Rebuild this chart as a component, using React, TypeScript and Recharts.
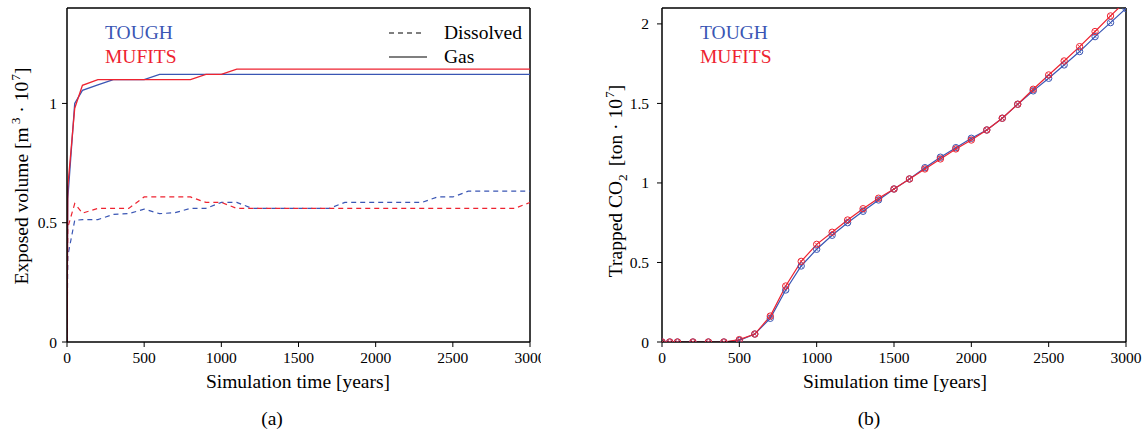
import React from 'react';
import { LineChart, Line, XAxis, YAxis, ReferenceLine } from 'recharts';

const FONT = '"Liberation Serif", "Times New Roman", Times, serif';
const BLUE = '#3a56b4';
const RED = '#ee2330';

// ---------- Panel (a): exposed volume ----------
const timeA = [0, 5, 50, 100, 200, 300, 400, 500, 600, 700, 800, 900, 1000, 1100, 1200, 1300, 1400, 1500, 1600, 1700, 1800, 1900, 2000, 2100, 2200, 2300, 2400, 2500, 2600, 2700, 2800, 2900, 3000];
const toughGas = [0, 0.6, 1.0, 1.055, 1.078, 1.1, 1.1, 1.1, 1.122, 1.122, 1.122, 1.122, 1.122, 1.122, 1.122, 1.122, 1.122, 1.122, 1.122, 1.122, 1.122, 1.122, 1.122, 1.122, 1.122, 1.122, 1.122, 1.122, 1.122, 1.122, 1.122, 1.122, 1.122];
const mufitsGas = [0, 0.65, 0.98, 1.076, 1.1, 1.1, 1.1, 1.1, 1.1, 1.1, 1.1, 1.122, 1.122, 1.144, 1.144, 1.144, 1.144, 1.144, 1.144, 1.144, 1.144, 1.144, 1.144, 1.144, 1.144, 1.144, 1.144, 1.144, 1.144, 1.144, 1.144, 1.144, 1.144];
const toughDis = [0, 0.36, 0.51, 0.513, 0.513, 0.535, 0.538, 0.557, 0.538, 0.542, 0.56, 0.56, 0.585, 0.585, 0.56, 0.56, 0.56, 0.56, 0.56, 0.56, 0.585, 0.585, 0.585, 0.585, 0.585, 0.585, 0.608, 0.608, 0.632, 0.632, 0.632, 0.632, 0.632];
const mufitsDis = [0, 0.48, 0.58, 0.54, 0.56, 0.56, 0.56, 0.608, 0.608, 0.608, 0.608, 0.585, 0.585, 0.56, 0.56, 0.56, 0.56, 0.56, 0.56, 0.56, 0.56, 0.56, 0.56, 0.56, 0.56, 0.56, 0.56, 0.56, 0.56, 0.56, 0.56, 0.56, 0.585];

// ---------- Panel (b): trapped CO2 ----------
const timeB = [0, 50, 100, 200, 300, 400, 500, 600, 700, 800, 900, 1000, 1100, 1200, 1300, 1400, 1500, 1600, 1700, 1800, 1900, 2000, 2100, 2200, 2300, 2400, 2500, 2600, 2700, 2800, 2900, 3000];
const toughTrap = [0, 0, 0, 0, 0, 0, 0.01, 0.05, 0.149, 0.327, 0.478, 0.583, 0.671, 0.75, 0.822, 0.893, 0.962, 1.025, 1.096, 1.162, 1.222, 1.281, 1.333, 1.407, 1.495, 1.579, 1.658, 1.742, 1.826, 1.92, 2.008, 2.097];
const mufitsTrap = [0, 0, 0, 0, 0, 0, 0.015, 0.05, 0.163, 0.352, 0.507, 0.614, 0.69, 0.767, 0.838, 0.904, 0.962, 1.025, 1.088, 1.151, 1.214, 1.27, 1.333, 1.407, 1.495, 1.589, 1.679, 1.767, 1.857, 1.952, 2.05, 2.145];

const xTicks = [0, 500, 1000, 1500, 2000, 2500, 3000];
const yTicksA = [0, 0.5, 1];
const yTicksB = [0, 0.5, 1, 1.5, 2];

const dataA = timeA.map((t, i) => ({ t, toughGas: toughGas[i], mufitsGas: mufitsGas[i], toughDis: toughDis[i], mufitsDis: mufitsDis[i] }));
const dataB = timeB.map((t, i) => ({ t, tough: toughTrap[i], mufits: mufitsTrap[i] }));

const tickStyle = { fontSize: 15.5, fill: '#000', fontFamily: FONT };
const TITLE_SIZE = 19.5;

const CrossDot = (props: any) => {
  const { cx, cy, stroke } = props;
  if (cx == null || cy == null) return <g key={props.index} />;
  const d = 1.8;
  return (
    <g key={props.index}>
      <circle cx={cx} cy={cy} r={3.2} fill="none" stroke={stroke} strokeWidth={1} />
      <path d={`M${cx - d},${cy - d}L${cx + d},${cy + d}M${cx - d},${cy + d}L${cx + d},${cy - d}`} stroke={stroke} strokeWidth={0.8} />
    </g>
  );
};

const YLabelA = () => (
  <text x={28} y={176} transform="rotate(-90 28 176)" textAnchor="middle" fontSize={TITLE_SIZE} fontFamily={FONT} fill="#000">
    Exposed volume [m<tspan dx={3} dy={-8} fontSize={13.5}>3</tspan>
    <tspan dy={8}> · 10</tspan>
    <tspan dx={1} dy={-8} fontSize={13.5}>7</tspan>
    <tspan dy={8}>]</tspan>
  </text>
);

const YLabelB = () => (
  <text x={81} y={181} transform="rotate(-90 81 181)" textAnchor="middle" fontSize={TITLE_SIZE} fontFamily={FONT} fill="#000">
    Trapped CO<tspan dy={5} fontSize={13.5}>2</tspan>
    <tspan dx={8} dy={-5}>[ton · 10</tspan>
    <tspan dx={1} dy={-8} fontSize={13.5}>7</tspan>
    <tspan dy={8}>]</tspan>
  </text>
);

const XLabel = ({ cx, panel }: { cx: number; panel: string }) => (
  <g>
    <text x={cx} y={388} textAnchor="middle" fontSize={TITLE_SIZE} fontFamily={FONT} fill="#000">Simulation time [years]</text>
    <text x={cx - 26} y={425} textAnchor="middle" fontSize={TITLE_SIZE} fontFamily={FONT} fill="#000">{panel}</text>
  </g>
);

const legendText: React.CSSProperties = { position: 'absolute', fontFamily: FONT, fontSize: TITLE_SIZE, lineHeight: '20px', whiteSpace: 'nowrap' };

const SeriesLegend = ({ left }: { left: number }) => (
  <>
    <div style={{ ...legendText, left, top: 23, color: BLUE }}>TOUGH</div>
    <div style={{ ...legendText, left, top: 47, color: RED }}>MUFITS</div>
  </>
);

export default function App() {
  return (
    <div style={{ position: 'absolute', left: 0, top: 0, width: 1148, height: 433, background: '#fff', overflow: 'hidden' }}>
      {/* Panel (a) */}
      <div style={{ position: 'absolute', left: 0, top: 0, width: 541, height: 433, overflow: 'hidden' }}>
        <LineChart width={541} height={433} data={dataA} margin={{ top: 8, right: 11, left: 0, bottom: 0 }}>
          <XAxis dataKey="t" type="number" domain={[0, 3000]} ticks={xTicks} interval={0} allowDataOverflow
            height={91} tick={tickStyle} tickSize={5} tickMargin={5}
            axisLine={{ stroke: '#000', strokeWidth: 1.5 }} tickLine={{ stroke: '#000' }}
            label={() => <XLabel cx={298} panel="(a)" />} />
          <YAxis type="number" domain={[0, 1.4]} ticks={yTicksA} interval={0} allowDataOverflow
            width={67} tick={tickStyle} tickSize={5} tickMargin={5}
            axisLine={{ stroke: '#000', strokeWidth: 1.5 }} tickLine={{ stroke: '#000' }}
            label={() => <YLabelA />} />
          <ReferenceLine y={1.4} stroke="#000" strokeWidth={1.5} />
          <ReferenceLine x={3000} stroke="#000" strokeWidth={1.5} />
          <Line dataKey="toughDis" stroke={BLUE} strokeWidth={1.2} strokeDasharray="5 4" dot={false} isAnimationActive={false} />
          <Line dataKey="mufitsDis" stroke={RED} strokeWidth={1.2} strokeDasharray="5 4" dot={false} isAnimationActive={false} />
          <Line dataKey="toughGas" stroke={BLUE} strokeWidth={1.3} dot={false} isAnimationActive={false} />
          <Line dataKey="mufitsGas" stroke={RED} strokeWidth={1.3} dot={false} isAnimationActive={false} />
        </LineChart>
        <SeriesLegend left={105} />
        <svg style={{ position: 'absolute', left: 389, top: 31 }} width={36} height={4}>
          <line x1={0} y1={2} x2={36} y2={2} stroke="#000" strokeWidth={1.2} strokeDasharray="5 4" />
        </svg>
        <svg style={{ position: 'absolute', left: 389, top: 55 }} width={38} height={4}>
          <line x1={0} y1={2} x2={38} y2={2} stroke="#000" strokeWidth={1.2} />
        </svg>
        <div style={{ ...legendText, left: 444, top: 23, color: '#000' }}>Dissolved</div>
        <div style={{ ...legendText, left: 444, top: 47, color: '#000' }}>Gas</div>
      </div>

      {/* Panel (b) */}
      <div style={{ position: 'absolute', left: 541, top: 0, width: 607, height: 433, overflow: 'hidden' }}>
        <LineChart width={607} height={433} data={dataB} margin={{ top: 8, right: 22, left: 0, bottom: 0 }}>
          <XAxis dataKey="t" type="number" domain={[0, 3000]} ticks={xTicks} interval={0} allowDataOverflow
            height={91} tick={tickStyle} tickSize={5} tickMargin={5}
            axisLine={{ stroke: '#000', strokeWidth: 1.5 }} tickLine={{ stroke: '#000' }}
            label={() => <XLabel cx={354} panel="(b)" />} />
          <YAxis type="number" domain={[0, 2.1]} ticks={yTicksB} interval={0} allowDataOverflow
            width={121} tick={tickStyle} tickSize={5} tickMargin={8}
            axisLine={{ stroke: '#000', strokeWidth: 1.5 }} tickLine={{ stroke: '#000' }}
            label={() => <YLabelB />} />
          <ReferenceLine y={2.1} stroke="#000" strokeWidth={1.5} />
          <ReferenceLine x={3000} stroke="#000" strokeWidth={1.5} />
          <Line dataKey="tough" stroke={BLUE} strokeWidth={1.2} dot={(p: any) => <CrossDot key={`b${p.index}`} {...p} />} isAnimationActive={false} />
          <Line dataKey="mufits" stroke={RED} strokeWidth={1.2} dot={(p: any) => <CrossDot key={`r${p.index}`} {...p} />} isAnimationActive={false} />
        </LineChart>
        <SeriesLegend left={159} />
      </div>
    </div>
  );
}
